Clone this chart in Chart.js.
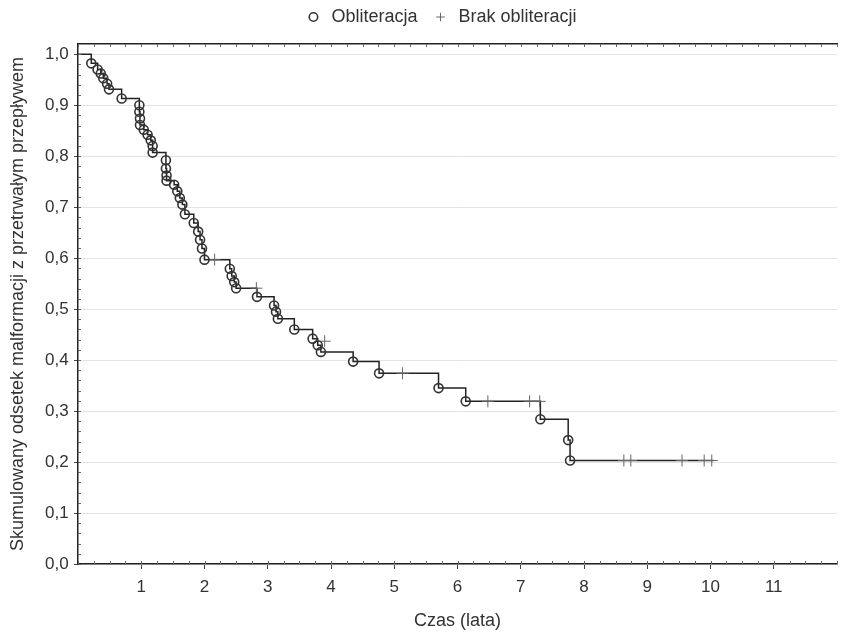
<!DOCTYPE html>
<html>
<head>
<meta charset="utf-8">
<script src="https://cdn.jsdelivr.net/npm/chart.js@4"></script>
<style>
  html, body { margin: 0; padding: 0; background: #fff; }
  #wrap { width: 847px; height: 633px; }
</style>
</head>
<body>
<div id="wrap"><canvas id="c" width="847" height="633"></canvas></div>
<script>
// ---- data ----
const startTime = 0;
const startSurv = 1.0;
const endTime = 10.05;

// event (obliteration) times and cumulative proportion after each event
const eventTimes = [0.21, 0.31, 0.36, 0.40, 0.46, 0.49, 0.69,
  0.97, 0.97, 0.98, 0.98, 1.04, 1.10, 1.15, 1.18, 1.18,
  1.39, 1.39, 1.40, 1.40, 1.52, 1.57, 1.61, 1.65, 1.69,
  1.83, 1.90, 1.93, 1.96, 2.00,
  2.40, 2.43, 2.47, 2.50, 2.83,
  3.10, 3.13, 3.16, 3.42, 3.71, 3.79, 3.84,
  4.35, 4.76, 5.70, 6.13, 7.31, 7.75, 7.78];
const eventSurv = [0.982, 0.970, 0.962, 0.953, 0.942, 0.931, 0.913,
  0.900, 0.887, 0.874, 0.861, 0.852, 0.842, 0.831, 0.820, 0.807,
  0.792, 0.776, 0.762, 0.752, 0.744, 0.731, 0.718, 0.705, 0.686,
  0.669, 0.652, 0.636, 0.619, 0.597,
  0.579, 0.565, 0.553, 0.541, 0.524,
  0.507, 0.495, 0.481, 0.460, 0.442, 0.429, 0.416,
  0.397, 0.374, 0.345, 0.319, 0.284, 0.243, 0.203];

// censored (no obliteration) times and level
const censorTimes = [2.16, 2.82, 3.90, 5.13, 6.48, 7.14, 7.30, 8.63, 8.74, 9.55, 9.90, 10.02];
const censorSurv  = [0.597, 0.541, 0.437, 0.374, 0.319, 0.319, 0.319, 0.203, 0.203, 0.203, 0.203, 0.203];

// axis ticks
const xTickValues = [1, 2, 3, 4, 5, 6, 7, 8, 9, 10, 11];
const yTickValues = [0.0, 0.1, 0.2, 0.3, 0.4, 0.5, 0.6, 0.7, 0.8, 0.9, 1.0];

const legendLabels = ['Obliteracja', 'Brak obliteracji'];
const xTitle = 'Czas (lata)';
const yTitle = 'Skumulowany odsetek malformacji z przetrwałym przepływem';

// ---- build datasets ----
const curve = [{x: startTime, y: startSurv}]
  .concat(eventTimes.map((t, i) => ({x: t, y: eventSurv[i]})))
  .concat([{x: endTime, y: eventSurv[eventSurv.length - 1]}]);
const events = eventTimes.map((t, i) => ({x: t, y: eventSurv[i]}));
const censored = censorTimes.map((t, i) => ({x: t, y: censorSurv[i]}));

const FONT = "'Liberation Sans', Arial, sans-serif";
const TXT = '#333';

const minorTicks = {
  id: 'minorTicks',
  afterDraw(chart) {
    const {ctx, chartArea: a, scales: {x, y}} = chart;
    ctx.save();
    ctx.lineWidth = 1;
    ctx.strokeStyle = '#666';
    ctx.beginPath();
    for (let v = 0; v <= 1.0001; v += 0.02) {
      const py = Math.round(y.getPixelForValue(v)) + 0.5;
      ctx.moveTo(a.left, py); ctx.lineTo(a.left + 3, py);
    }
    for (let v = 0; v <= 12.0001; v += 0.25) {
      const px = Math.round(x.getPixelForValue(v)) + 0.5;
      ctx.moveTo(px, a.bottom); ctx.lineTo(px, a.bottom - 3);
      ctx.moveTo(px, a.top); ctx.lineTo(px, a.top + 3);
    }
    ctx.stroke();
    ctx.restore();
  }
};

new Chart(document.getElementById('c'), {
  type: 'scatter',
  data: {
    datasets: [
      {
        type: 'line',
        label: 'curve',
        data: curve,
        stepped: true,
        borderColor: '#222',
        borderWidth: 1.5,
        pointRadius: 0,
        fill: false,
        order: 3
      },
      {
        label: legendLabels[0],
        data: events,
        pointStyle: 'circle',
        pointRadius: 4.5,
        pointBorderWidth: 1.6,
        borderColor: '#333',
        backgroundColor: 'rgba(255,255,255,0)',
        pointBackgroundColor: 'rgba(255,255,255,0)',
        order: 1
      },
      {
        label: legendLabels[1],
        data: censored,
        pointStyle: 'cross',
        pointRadius: 6,
        pointBorderWidth: 1,
        borderColor: '#666',
        backgroundColor: '#666',
        order: 2
      }
    ]
  },
  options: {
    responsive: false,
    animation: false,
    devicePixelRatio: 1,
    layout: { padding: { top: -6, right: 10, bottom: 0, left: 44 } },
    plugins: {
      tooltip: { enabled: false },
      legend: {
        display: true,
        position: 'top',
        labels: {
          filter: (item) => item.text !== 'curve',
          usePointStyle: true,
          boxWidth: 18,
          boxHeight: 6,
          padding: 14,
          color: TXT,
          font: { family: FONT, size: 18 }
        }
      }
    },
    scales: {
      xTop: {
        type: 'linear',
        position: 'top',
        min: 0,
        max: 12,
        afterFit: (s) => { s.height = 8; },
        ticks: { display: false },
        grid: { drawOnChartArea: false, drawTicks: false },
        border: { display: true, color: '#222', width: 1.5 }
      },
      x: {
        type: 'linear',
        position: 'bottom',
        min: 0,
        max: 12,
        afterBuildTicks: (s) => { s.ticks = xTickValues.map(v => ({value: v})); },
        afterFit: (s) => { s.height = 69; },
        ticks: { color: TXT, font: { family: FONT, size: 17 }, padding: 8,
                 callback: (v) => String(v) },
        grid: { drawOnChartArea: false, tickLength: 5, tickColor: '#444' },
        border: { color: '#222', width: 1.5 },
        title: { display: true, text: xTitle, color: TXT,
                 font: { family: FONT, size: 18 }, padding: { top: 4, bottom: 1 } }
      },
      y: {
        type: 'linear',
        min: 0,
        max: 1.02,
        afterBuildTicks: (s) => { s.ticks = yTickValues.map(v => ({value: v})); },
        afterFit: (s) => { s.width = 34; },
        ticks: { color: TXT, font: { family: FONT, size: 17 }, mirror: true, padding: -33,
                 callback: (v) => Number(v).toFixed(1).replace('.', ',') },
        grid: { color: '#e4e4e4', lineWidth: 1, tickLength: 4, tickColor: '#444' },
        border: { color: '#222', width: 1.5 },
        title: { display: true, text: yTitle, color: TXT,
                 font: { family: FONT, size: 18 }, padding: { top: -37, bottom: 0 } }
      }
    }
  },
  plugins: [minorTicks]
});
</script>
</body>
</html>
